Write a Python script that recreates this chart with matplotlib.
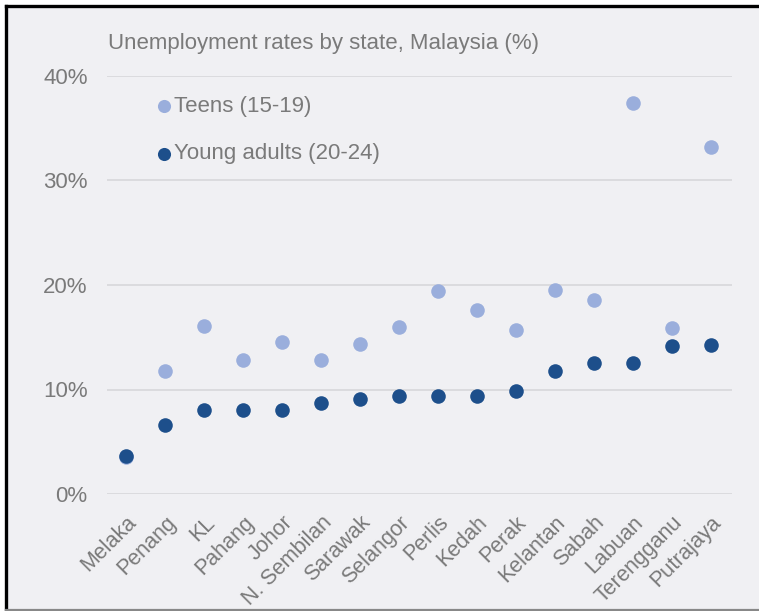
import matplotlib.pyplot as plt
from matplotlib.patches import Rectangle
from matplotlib.lines import Line2D
from matplotlib.ticker import FuncFormatter
from matplotlib import font_manager

states = ["Melaka", "Penang", "KL", "Pahang", "Johor", "N. Sembilan", "Sarawak",
          "Selangor", "Perlis", "Kedah", "Perak", "Kelantan", "Sabah", "Labuan",
          "Terengganu", "Putrajaya"]
teens = [3.5, 11.8, 16.1, 12.8, 14.5, 12.8, 14.4, 16.0, 19.4, 17.6, 15.7, 19.5,
         18.6, 37.4, 15.9, 33.2]
young_adults = [3.6, 6.6, 8.0, 8.0, 8.0, 8.7, 9.1, 9.4, 9.4, 9.4, 9.9, 11.8,
                12.5, 12.5, 14.2, 14.3]
y_ticks = [0, 10, 20, 30, 40]

available = {f.name for f in font_manager.fontManager.ttflist}
family = "Liberation Sans Narrow" if "Liberation Sans Narrow" in available else "Liberation Sans"
plt.rcParams["font.family"] = [family, "DejaVu Sans"]

BG = "#f0f0f3"
TXT = "#7a7a7a"
LIGHT = "#9aaedc"
DARK = "#1d4f8b"

fig = plt.figure(figsize=(7.59, 6.11), dpi=100)
fig.patch.set_facecolor("white")

# panel background + frame (top/left black, bottom grey, open on the right)
W, H = 759, 611
fig.patches.append(Rectangle((6 / W, 1 / H), 1 - 6 / W, 1 - 7 / H, transform=fig.transFigure,
                             facecolor=BG, edgecolor="none", zorder=-10))
fig.lines.append(Line2D([6 / W, 1], [1 - 6 / H, 1 - 6 / H], transform=fig.transFigure,
                        color="black", lw=2.4))
fig.lines.append(Line2D([6 / W, 6 / W], [1 / H, 1 - 6 / H], transform=fig.transFigure,
                        color="black", lw=2.4))
fig.lines.append(Line2D([6 / W, 1], [1 / H, 1 / H], transform=fig.transFigure,
                        color="#888888", lw=1.6))

ax = fig.add_axes([107 / W, 1 - 494 / H, (732 - 107) / W, (494 - 76) / H])
ax.set_facecolor("none")

x = list(range(len(states)))
ax.scatter(x, teens, s=110, color=LIGHT, zorder=3, label="Teens (15-19)", linewidths=0)
ax.scatter(x, young_adults, s=110, color=DARK, zorder=4, label="Young adults (20-24)",
           linewidths=0)

ax.set_xlim(-0.49, 15.54)
ax.set_ylim(0, 40)
ax.set_yticks(y_ticks)
ax.yaxis.set_major_formatter(FuncFormatter(lambda v, p: f"{v:.0f}%"))
ax.grid(axis="y", color="#d9d9dc", lw=1.3)
ax.set_axisbelow(True)
for sp in ax.spines.values():
    sp.set_visible(False)
ax.tick_params(axis="both", length=0, colors=TXT, labelsize=16)
ax.tick_params(axis="y", pad=14)

ax.set_xticks(x)
ax.set_xticklabels(states, rotation=45, ha="right", rotation_mode="anchor", fontsize=15.5)
ax.tick_params(axis="x", pad=13)

fig.text(108 / W, 1 - 44 / H, "Unemployment rates by state, Malaysia (%)",
         color=TXT, fontsize=16, va="center", ha="left")

leg = ax.legend(loc="upper left", bbox_to_anchor=(0.052, 0.99), frameon=False,
                fontsize=16, labelspacing=1.2, handletextpad=0.05, handlelength=0.8,
                markerscale=0.9, borderpad=0.2)
for t in leg.get_texts():
    t.set_color(TXT)

fig.savefig("out.png", dpi=100, facecolor=fig.get_facecolor())
